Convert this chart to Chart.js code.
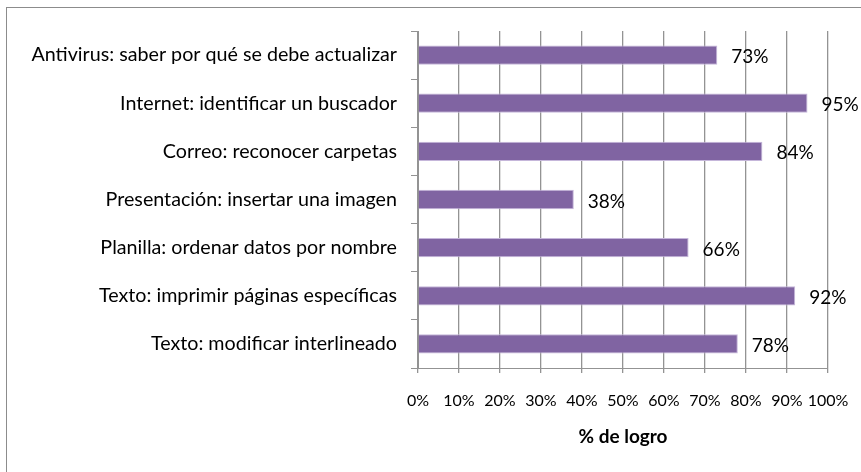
<!DOCTYPE html>
<html>
<head>
<meta charset="utf-8">
<script src="https://cdn.jsdelivr.net/npm/chart.js@4/dist/chart.umd.min.js"></script>
<style>
	html, body { margin: 0; padding: 0; background: #fff; }
	#wrap { width: 861px; height: 472px; }
</style>
</head>
<body>
<div id="wrap"><canvas id="chart" width="861" height="472"></canvas></div>
<script>
const categories = [
	'Antivirus: saber por qué se debe actualizar',
	'Internet: identificar un buscador',
	'Correo: reconocer carpetas',
	'Presentación: insertar una imagen',
	'Planilla: ordenar datos por nombre',
	'Texto: imprimir páginas específicas',
	'Texto: modificar interlineado'
];
const logro = [73, 95, 84, 38, 66, 92, 78];
const xTicks = [0, 10, 20, 30, 40, 50, 60, 70, 80, 90, 100];
const axisTitle = '% de logro';

const FONT = 'Lato, "Open Sans", sans-serif';
const GRID = '#939393';

// outer chart border (runs off the right and bottom edges in the original)
const frame = {
	id: 'frame',
	beforeDraw(chart) {
		const ctx = chart.ctx;
		ctx.save();
		ctx.strokeStyle = '#8c8c8c';
		ctx.lineWidth = 1;
		ctx.strokeRect(6.5, 7.5, 900, 500);
		ctx.restore();
	}
};

const valueLabels = {
	id: 'valueLabels',
	afterDatasetsDraw(chart) {
		const ctx = chart.ctx;
		const meta = chart.getDatasetMeta(0);
		ctx.save();
		ctx.font = '19px ' + FONT;
		ctx.fillStyle = '#000';
		ctx.textAlign = 'left';
		ctx.textBaseline = 'middle';
		meta.data.forEach((bar, i) => {
			ctx.fillText(logro[i] + '%', bar.x + 14, bar.y + 2);
		});
		ctx.restore();
	}
};

new Chart(document.getElementById('chart').getContext('2d'), {
	type: 'bar',
	data: {
		labels: categories,
		datasets: [{
			data: logro,
			backgroundColor: '#8064A2',
			borderColor: '#C5B6DA',
			borderWidth: 1,
			categoryPercentage: 1,
			barPercentage: 0.4
		}]
	},
	options: {
		indexAxis: 'y',
		responsive: false,
		animation: false,
		layout: { padding: { left: 0, right: 33, top: 31, bottom: 0 } },
		scales: {
			x: {
				type: 'linear',
				min: 0,
				max: 100,
				afterBuildTicks: scale => { scale.ticks = xTicks.map(v => ({ value: v })); },
				afterFit: scale => {
					scale.height = 104;
					scale.paddingLeft = 0;
					scale.paddingRight = 0;
				},
				border: { color: GRID, width: 1 },
				grid: { drawOnChartArea: true, color: GRID, lineWidth: 1.3, tickLength: 5, drawTicks: true },
				ticks: {
					autoSkip: false,
					callback: v => v + '%',
					color: '#000',
					font: { family: FONT, size: 16 },
					padding: 18,
					maxRotation: 0
				},
				title: {
					display: true,
					text: axisTitle,
					color: '#000',
					font: { family: FONT, size: 19, weight: 'bold' },
					padding: { top: 0, bottom: 24 }
				}
			},
			y: {
				afterFit: scale => { scale.width = 418; },
				border: { color: GRID, width: 1 },
				grid: { color: GRID, drawOnChartArea: false, tickLength: 7, offset: true },
				ticks: {
					color: '#000',
					font: { family: FONT, size: 19.7 },
					padding: 14
				}
			}
		},
		plugins: {
			legend: { display: false },
			tooltip: { enabled: false }
		}
	},
	plugins: [frame, valueLabels]
});
</script>
</body>
</html>
